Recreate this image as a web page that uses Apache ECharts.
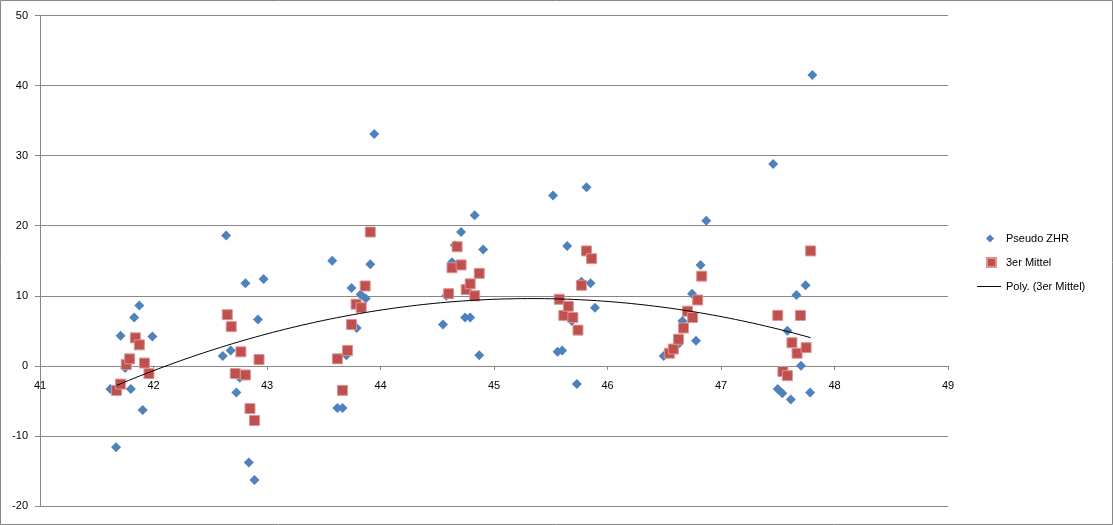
<!DOCTYPE html>
<html><head><meta charset="utf-8">
<script src="https://cdn.jsdelivr.net/npm/echarts@6/dist/echarts.min.js"></script>
<style>html,body{margin:0;padding:0;background:#fff}#c{width:1113px;height:525px}</style>
</head><body><div id="c"></div>
<script>
// Pseudo ZHR (blue diamonds): [x, y]
const pseudoZHR = [
  [41.62,-3.3],[41.67,-11.6],[41.71,4.3],[41.75,-0.3],[41.80,-3.3],[41.83,6.9],[41.875,8.6],[41.905,-6.3],[41.99,4.2],
  [42.61,1.4],[42.64,18.6],[42.68,2.2],[42.73,-3.8],[42.76,-1.7],[42.81,11.8],[42.84,-13.8],[42.89,-16.3],[42.92,6.6],[42.97,12.4],
  [43.575,15.0],[43.62,-6.0],[43.665,-6.0],[43.70,1.5],[43.745,11.1],[43.79,5.4],[43.825,10.2],[43.87,9.6],[43.91,14.5],[43.945,33.1],
  [44.55,5.9],[44.58,10.0],[44.63,14.8],[44.655,17.2],[44.71,19.1],[44.745,6.9],[44.79,6.9],[44.83,21.5],[44.87,1.5],[44.905,16.6],
  [45.52,24.3],[45.56,2.0],[45.60,2.2],[45.645,17.1],[45.685,6.4],[45.73,-2.6],[45.77,12.0],[45.815,25.5],[45.85,11.8],[45.89,8.3],
  [46.495,1.4],[46.63,3.2],[46.66,6.4],[46.745,10.3],[46.78,3.6],[46.82,14.4],[46.87,20.7],
  [47.46,28.8],[47.50,-3.3],[47.54,-3.9],[47.585,5.0],[47.615,-4.8],[47.665,10.1],[47.705,0.0],[47.745,11.5],[47.785,-3.8],[47.805,41.5]
];
// 3er Mittel (red squares): [x, y]
const dreierMittel = [
  [41.675,-3.5],[41.71,-2.6],[41.76,0.2],[41.79,1.0],[41.84,4.0],[41.875,3.0],[41.92,0.4],[41.96,-1.1],
  [42.65,7.3],[42.685,5.6],[42.72,-1.1],[42.77,2.0],[42.81,-1.3],[42.85,-6.1],[42.89,-7.8],[42.93,0.9],
  [43.62,1.0],[43.665,-3.5],[43.71,2.2],[43.745,5.9],[43.785,8.8],[43.83,8.3],[43.865,11.4],[43.91,19.1],
  [44.60,10.3],[44.63,14.0],[44.675,17.0],[44.71,14.4],[44.755,10.9],[44.79,11.7],[44.83,10.0],[44.87,13.2],
  [45.575,9.5],[45.615,7.2],[45.655,8.5],[45.695,6.9],[45.74,5.1],[45.77,11.5],[45.815,16.4],[45.86,15.3],
  [46.545,1.8],[46.58,2.4],[46.625,3.8],[46.67,5.4],[46.705,7.8],[46.75,6.9],[46.795,9.4],[46.83,12.8],
  [47.50,7.2],[47.545,-0.8],[47.585,-1.4],[47.625,3.3],[47.67,1.8],[47.70,7.2],[47.75,2.6],[47.79,16.4]
];
const seriesNames = ['Pseudo ZHR', '3er Mittel', 'Poly. (3er Mittel)'];
const xTicks = [41, 49, 1];
const yTicks = [-20, 50, 10];

// Polynomial (order 2) least-squares trendline of the 3er Mittel series, like the spreadsheet's trendline
function polyFit2(pts) {
  const x0 = 45;
  let S = [0,0,0,0,0], T = [0,0,0];
  pts.forEach(([x,y]) => { const u = x - x0; let p = 1;
    for (let k=0;k<5;k++){ S[k]+=p; if(k<3) T[k]+=p*y; p*=u; } });
  const A = [[S[0],S[1],S[2],T[0]],[S[1],S[2],S[3],T[1]],[S[2],S[3],S[4],T[2]]];
  for (let i=0;i<3;i++){ for (let j=i+1;j<3;j++){ const f=A[j][i]/A[i][i]; for(let k=i;k<4;k++) A[j][k]-=f*A[i][k]; } }
  const c=[0,0,0];
  for (let i=2;i>=0;i--){ let s=A[i][3]; for(let k=i+1;k<3;k++) s-=A[i][k]*c[k]; c[i]=s/A[i][i]; }
  return x => { const u=x-x0; return c[0]+c[1]*u+c[2]*u*u; };
}
const fit = polyFit2(dreierMittel);
const xs = dreierMittel.map(p=>p[0]);
const xMin = Math.min(...xs), xMax = Math.max(...xs);
const trend = [];
for (let i=0;i<=120;i++){ const x = xMin + (xMax-xMin)*i/120; trend.push([x, fit(x)]); }

const font = 'Liberation Sans';
const gray = '#868686';
const H = 525, gridTop = 15.5, gridBottom = 19;
const gridH = H - gridTop - gridBottom;
// x axis (line, ticks and labels) crosses the y axis at 0
const zeroOffset = gridH * (0 - yTicks[0]) / (yTicks[1] - yTicks[0]);

const chart = echarts.init(document.getElementById('c'), null, {renderer:'canvas'});
chart.setOption({
  animation: false,
  backgroundColor: '#fff',
  textStyle: {fontFamily: font},
  graphic: [{type:'rect', shape:{x:0.5,y:0.5,width:1112,height:524}, style:{fill:'none', stroke:gray, lineWidth:1}, silent:true}],
  grid: {left: 40, right: 165, top: gridTop, bottom: gridBottom},
  xAxis: {
    type:'value', min:xTicks[0], max:xTicks[1], interval:xTicks[2],
    offset: -zeroOffset,
    axisLine:{show:true, onZero:false, lineStyle:{color:gray, width:1}},
    axisTick:{show:true, inside:false, length:4, lineStyle:{color:gray}},
    axisLabel:{color:'#000', fontSize:11, margin:15, fontFamily:font},
    splitLine:{show:false}
  },
  yAxis: {
    type:'value', min:yTicks[0], max:yTicks[1], interval:yTicks[2],
    axisLine:{show:true, onZero:false, lineStyle:{color:gray, width:1}},
    axisTick:{show:true, inside:false, length:5, lineStyle:{color:gray}},
    axisLabel:{color:'#000', fontSize:11, margin:12, fontFamily:font},
    splitLine:{show:true, lineStyle:{color:gray, width:1}}
  },
  legend: [
    {data:[seriesNames[0]], left:986, top:233, padding:0, icon:'diamond', itemWidth:8, itemHeight:8,
     textStyle:{fontSize:11, color:'#000', fontFamily:font, padding:[0,0,0,7]}},
    {data:[seriesNames[1]], left:986, top:257, padding:0, icon:'rect', itemWidth:9, itemHeight:9,
     textStyle:{fontSize:11, color:'#000', fontFamily:font, padding:[0,0,0,5]}},
    {data:[seriesNames[2]], left:977, top:281, padding:0, icon:'path://M0,0L100,0L100,4L0,4Z', itemWidth:24, itemHeight:1,
     textStyle:{fontSize:11, color:'#000', fontFamily:font}}
  ],
  series: [
    {name:seriesNames[0], type:'scatter', data:pseudoZHR, symbol:'diamond', symbolSize:10,
     itemStyle:{color:'#4F81BD', opacity:1}, z:2},
    {name:seriesNames[1], type:'scatter', data:dreierMittel, symbol:'rect', symbolSize:10,
     itemStyle:{color:'#C0504D', borderColor:'#D99694', borderWidth:1, opacity:1}, z:3},
    {name:seriesNames[2], type:'line', data:trend, symbol:'none', smooth:false,
     lineStyle:{color:'#000', width:1}, itemStyle:{color:'#000'}, z:4}
  ]
});
</script></body></html>
